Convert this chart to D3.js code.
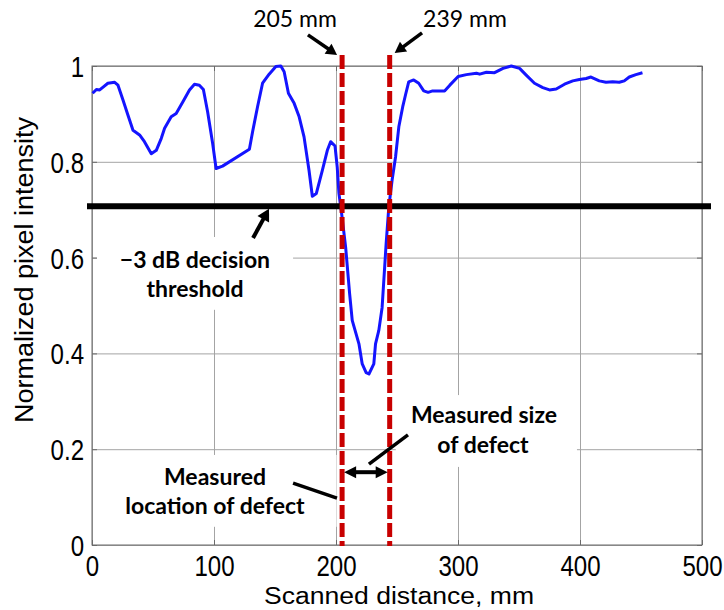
<!DOCTYPE html>
<html lang="en">
<head>
  <meta charset="UTF-8">
  <title>Scanned pixel intensity</title>
  <script src="https://cdn.jsdelivr.net/npm/d3@7"></script>
  <style>body{margin:0;background:#fff;} svg{display:block;}</style>
</head>
<body>
<div id="chart"></div>
<script>
// scan profile (mm, normalized intensity)
const distance = [0.5, 3.6, 6.3, 9.6, 13, 18.6, 21.3, 25.4, 29.5, 33.6, 39, 43, 48.6, 52.7, 56.8, 59.5, 64.9, 69, 74.4, 79.9, 84, 88, 91.3, 94.8, 98.9, 101.7, 107, 129, 131.6, 135.7, 139.8, 145.2, 150.7, 154.8, 157.5, 161, 165.7, 169.8, 173.8, 177.9, 180.6, 183.9, 188.8, 192.9, 195.6, 199.2, 201, 202.4, 204.6, 207.9, 211.2, 213.3, 218.8, 221.5, 224.7, 227, 231, 232.4, 235.1, 237.8, 241.1, 243.3, 246, 248.8, 251.5, 254.7, 257, 259.6, 263.7, 267.8, 271.9, 275.5, 279.2, 289, 293.3, 300.1, 306.9, 315.1, 317.8, 323.3, 330, 336.9, 343.7, 350.5, 355.9, 362.7, 369.5, 375, 380.5, 387.3, 394.1, 399.5, 405, 409, 415.8, 421.3, 426.8, 432.2, 436.3, 440.4, 445.8, 451.2];
const intensity = [0.943, 0.951, 0.950, 0.957, 0.964, 0.966, 0.960, 0.929, 0.897, 0.866, 0.856, 0.842, 0.817, 0.824, 0.849, 0.870, 0.894, 0.901, 0.925, 0.950, 0.962, 0.960, 0.951, 0.904, 0.838, 0.786, 0.791, 0.826, 0.862, 0.915, 0.964, 0.983, 0.999, 1.0, 0.988, 0.943, 0.922, 0.894, 0.852, 0.782, 0.728, 0.734, 0.782, 0.824, 0.842, 0.833, 0.789, 0.734, 0.692, 0.622, 0.524, 0.469, 0.420, 0.378, 0.360, 0.357, 0.378, 0.420, 0.448, 0.496, 0.629, 0.706, 0.762, 0.810, 0.873, 0.915, 0.940, 0.967, 0.971, 0.964, 0.948, 0.945, 0.948, 0.948, 0.960, 0.978, 0.982, 0.985, 0.983, 0.987, 0.986, 0.995, 1.0, 0.995, 0.981, 0.964, 0.955, 0.950, 0.952, 0.962, 0.969, 0.972, 0.974, 0.977, 0.969, 0.966, 0.967, 0.966, 0.969, 0.977, 0.982, 0.986];
const xTicks = [0, 100, 200, 300, 400, 500];
const yTicks = [0, 0.2, 0.4, 0.6, 0.8, 1];
const threshold = 0.707;            // -3 dB
const edgePositions = [205, 244];   // where the dashed lines sit in the figure
const edgeLabels = ["205 mm", "239 mm"];

const width = 724, height = 610;
const margin = {top: 66, right: 22, bottom: 65, left: 92};
const plotW = width - margin.left - margin.right;
const plotH = height - margin.top - margin.bottom;

const x = d3.scaleLinear().domain([0, 500]).range([margin.left, margin.left + plotW]);
const y = d3.scaleLinear().domain([0, 1]).range([margin.top + plotH, margin.top]);

const svg = d3.select("#chart").append("svg")
  .attr("width", width)
  .attr("height", height);

svg.append("rect").attr("width", width).attr("height", height).attr("fill", "#fff");

// grid
svg.append("g")
  .attr("transform", `translate(0,${margin.top + plotH})`)
  .call(d3.axisBottom(x).tickValues(xTicks).tickSize(-plotH).tickFormat(""))
  .call(g => g.select(".domain").remove())
  .call(g => g.selectAll("line").attr("stroke", "#a4a4a4").attr("stroke-width", 1));
svg.append("g")
  .attr("transform", `translate(${margin.left},0)`)
  .call(d3.axisLeft(y).tickValues(yTicks).tickSize(-plotW).tickFormat(""))
  .call(g => g.select(".domain").remove())
  .call(g => g.selectAll("line").attr("stroke", "#a4a4a4").attr("stroke-width", 1));

// white backgrounds of the text boxes hide the grid
const boxes = [
  [4, 164.8, 0.643, 0.491],
  [6.6, 200.5, 0.188, 0.038],
  [249, 397.5, 0.313, 0.163]
];
svg.append("g").selectAll("rect").data(boxes).join("rect")
  .attr("x", d => x(d[0])).attr("width", d => x(d[1]) - x(d[0]))
  .attr("y", d => y(d[2])).attr("height", d => y(d[3]) - y(d[2]))
  .attr("fill", "#fff");

// box + inward ticks
svg.append("rect")
  .attr("x", margin.left).attr("y", margin.top)
  .attr("width", plotW).attr("height", plotH)
  .attr("fill", "none").attr("stroke", "#6a6a6a").attr("stroke-width", 1);

const tickFont = "'Liberation Sans', Arial, sans-serif";
const sx = 0.83;

const xAxis = svg.append("g")
  .attr("transform", `translate(0,${margin.top + plotH})`)
  .call(d3.axisBottom(x).tickValues(xTicks).tickSize(-5).tickFormat(d3.format("d")));
const yAxis = svg.append("g")
  .attr("transform", `translate(${margin.left},0)`)
  .call(d3.axisLeft(y).tickValues(yTicks).tickSize(-5).tickFormat(d => d === 0 || d === 1 ? String(d) : d3.format(".1f")(d)));
svg.append("g")
  .attr("transform", `translate(0,${margin.top})`)
  .call(d3.axisTop(x).tickValues(xTicks).tickSize(-5).tickFormat(""));
svg.append("g")
  .attr("transform", `translate(${margin.left + plotW},0)`)
  .call(d3.axisRight(y).tickValues(yTicks).tickSize(-5).tickFormat(""));
svg.selectAll(".domain").remove();
svg.selectAll(".tick line").filter(function() {
  const l = d3.select(this);
  return Math.abs(+l.attr("x2")) === 5 || Math.abs(+l.attr("y2")) === 5;
}).attr("stroke", "#6a6a6a");

xAxis.selectAll("text")
  .attr("y", 31).attr("dy", 0)
  .attr("font-family", tickFont).attr("font-size", 29).attr("fill", "#000")
  .attr("transform", `scale(${sx},1)`);
yAxis.selectAll("text")
  .attr("x", -8 / sx).attr("dy", "0.36em")
  .attr("font-family", tickFont).attr("font-size", 29).attr("fill", "#000")
  .attr("transform", `scale(${sx},1)`);

// axis titles
svg.append("text")
  .attr("x", 399).attr("y", 604)
  .attr("text-anchor", "middle")
  .attr("font-family", tickFont).attr("font-size", 23)
  .attr("textLength", 270).attr("lengthAdjust", "spacingAndGlyphs")
  .text("Scanned distance, mm");
svg.append("text")
  .attr("transform", "translate(33,270) rotate(-90)")
  .attr("text-anchor", "middle")
  .attr("font-family", tickFont).attr("font-size", 25)
  .attr("textLength", 306).attr("lengthAdjust", "spacingAndGlyphs")
  .text("Normalized pixel intensity");

// scan profile
const line = d3.line().x((d, i) => x(distance[i])).y(d => y(d));
svg.append("path")
  .datum(intensity)
  .attr("d", line)
  .attr("fill", "none")
  .attr("stroke", "#1414ff")
  .attr("stroke-width", 3)
  .attr("stroke-linejoin", "round");

// threshold line
svg.append("line")
  .attr("x1", x(0) - 5).attr("x2", x(500) + 9)
  .attr("y1", y(threshold)).attr("y2", y(threshold))
  .attr("stroke", "#000").attr("stroke-width", 6);

// measured defect edges
svg.append("g").selectAll("line").data(edgePositions).join("line")
  .attr("x1", d => x(d)).attr("x2", d => x(d))
  .attr("y1", y(1.023)).attr("y2", y(0) + 1)
  .attr("stroke", "#c80000").attr("stroke-width", 5)
  .attr("stroke-dasharray", "14,4");

// annotations
const ann = svg.append("g");
function arrow(x1, y1, x2, y2, w, head) {
  const a = Math.atan2(y2 - y1, x2 - x1);
  const bx = x2 - head * Math.cos(a), by = y2 - head * Math.sin(a);
  const px = Math.sin(a) * head * 0.55, py = -Math.cos(a) * head * 0.55;
  ann.append("line").attr("x1", x1).attr("y1", y1).attr("x2", bx + Math.cos(a)).attr("y2", by + Math.sin(a))
    .attr("stroke", "#000").attr("stroke-width", w);
  ann.append("path").attr("d", `M${x2},${y2}L${bx + px},${by + py}L${bx - px},${by - py}Z`).attr("fill", "#000");
}
function leader(x1, y1, x2, y2) {
  ann.append("line").attr("x1", x1).attr("y1", y1).attr("x2", x2).attr("y2", y2)
    .attr("stroke", "#000").attr("stroke-width", 3.5);
}

arrow(x(177), y(1.065), x(edgePositions[0]) - 5, y(1.023), 3.5, 11);
arrow(x(270.5), y(1.069), x(edgePositions[1]) + 5, y(1.027), 3.5, 11);
arrow(x(132), y(0.641), x(145.1), y(0.702), 4, 12);
leader(x(164.8), y(0.129), x(200.8), y(0.098));
leader(x(259), y(0.230), x(227), y(0.169));

// double-headed size arrow
(function() {
  const yy = y(0.152), xa = x(edgePositions[0]) + 2, xb = x(edgePositions[1]) - 2, h = 12;
  ann.append("line").attr("x1", xa + h - 1).attr("x2", xb - h + 1).attr("y1", yy).attr("y2", yy)
    .attr("stroke", "#000").attr("stroke-width", 4);
  ann.append("path").attr("d", `M${xa},${yy}L${xa + h},${yy - 6}L${xa + h},${yy + 6}Z`).attr("fill", "#000");
  ann.append("path").attr("d", `M${xb},${yy}L${xb - h},${yy - 6}L${xb - h},${yy + 6}Z`).attr("fill", "#000");
})();

const noteFont = "Lato, 'Open Sans', sans-serif";
svg.append("g").selectAll("text").data(edgeLabels).join("text")
  .attr("x", (d, i) => i === 0 ? x(166.4) : x(305.7))
  .attr("y", y(1.081))
  .attr("text-anchor", "middle")
  .attr("font-family", noteFont).attr("font-size", 23)
  .text(d => d);

const notes = [
  ["\u22123 dB decision", 84.4, 0.578],
  ["threshold", 84.4, 0.518],
  ["Measured", 100.8, 0.125],
  ["location of defect", 100.8, 0.065],
  ["Measured size", 321.3, 0.255],
  ["of defect", 320.5, 0.192]
];
svg.append("g").selectAll("text").data(notes).join("text")
  .attr("x", d => x(d[1])).attr("y", d => y(d[2]))
  .attr("text-anchor", "middle")
  .attr("font-family", noteFont).attr("font-weight", "bold").attr("font-size", 23)
  .text(d => d[0]);
</script>
</body>
</html>
